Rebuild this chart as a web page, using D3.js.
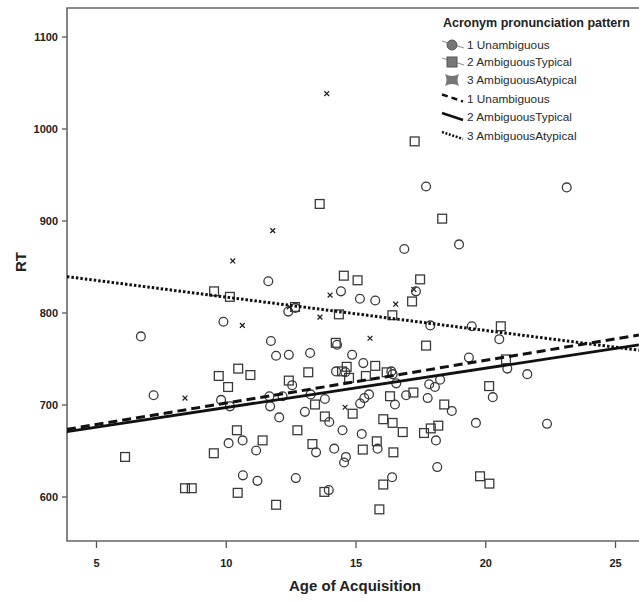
<!DOCTYPE html>
<html>
<head>
<meta charset="utf-8">
<script src="https://cdn.jsdelivr.net/npm/d3@7"></script>
<style>
  body { margin: 0; background: #fff; }
  svg { display: block; font-family: "Liberation Sans Narrow", "Liberation Sans", Arial, sans-serif; }
</style>
</head>
<body>
<svg id="chart" width="639" height="603"></svg>
<script>
// Age of Acquisition (x) vs RT (y), one array pair per group
var unambX = [6.73, 9.91, 7.22, 9.82, 10.16, 10.11, 10.65, 11.17, 10.66, 11.22, 11.64, 14.44, 15.17, 17.72, 23.14,
  16.88, 18.99, 15.76, 17.33, 12.41, 12.68, 17.88, 11.74, 14.29, 11.94, 12.43, 13.25, 14.87, 15.3, 14.25, 14.61,
  12.56, 16.38, 16.43, 16.57, 17.84, 18.06, 18.26, 11.68, 12.19, 13.27, 13.82, 16.95, 17.78, 11.71, 15.52, 15.34,
  15.18, 16.52, 12.06, 13.05, 13.99, 14.5, 15.24, 18.1, 13.48, 14.18, 15.85, 14.63, 14.56, 12.7, 13.97, 16.41,
  19.48, 20.54, 19.37, 20.85, 21.62, 20.29, 18.71, 19.64, 22.38, 18.15];
var unambRT = [774, 790, 710, 705, 698, 658, 661, 650, 623, 617, 834, 823, 815, 937, 936,
  869, 874, 813, 823, 801, 805, 786, 769, 765, 753, 754, 756, 754, 745, 736, 735,
  721, 736, 733, 723, 722, 719, 727, 709, 709, 711, 706, 710, 707, 698, 711, 707,
  701, 700, 686, 692, 681, 672, 668, 661, 648, 652, 652, 643, 637, 620, 607, 621,
  785, 771, 751, 739, 733, 708, 693, 680, 679, 632];

var typX = [9.73, 10.48, 10.95, 10.09, 10.43, 6.12, 9.54, 8.43, 8.69, 10.46, 13.62, 14.55, 15.08, 9.55, 10.16,
  12.67, 17.28, 18.34, 17.49, 17.18, 16.42, 14.36, 14.24, 17.72, 15.76, 13.18, 14.48, 14.66, 14.75, 15.4, 16.2,
  12.43, 16.33, 17.23, 13.44, 14.89, 13.82, 16.07, 16.43, 16.82, 17.64, 17.9, 18.19, 12.76, 11.42, 13.34, 15.28,
  15.82, 16.46, 13.8, 16.07, 11.94, 15.92, 20.6, 20.8, 20.15, 18.42, 19.8, 20.16];
var typRT = [731, 739, 732, 719, 672, 643, 647, 609, 609, 604, 918, 840, 835, 823, 817,
  806, 986, 902, 836, 812, 797, 798, 767, 764, 742, 735, 736, 741, 729, 731, 735,
  726, 709, 713, 700, 690, 687, 684, 680, 670, 669, 674, 677, 672, 661, 657, 651,
  660, 648, 605, 613, 591, 586, 785, 749, 720, 700, 622, 614];

var atypX = [10.64, 8.43, 13.89, 11.81, 10.27, 14.02, 16.55, 17.25, 12.45, 13.63, 15.56, 14.6];
var atypRT = [786, 707, 1038, 889, 856, 819, 809, 825, 806, 795, 772, 697];

// fit lines, RT at the two ends of the x range
var fitEnds = [3.88, 25.92];
var fitUnamb = [673, 775.5];
var fitTyp = [670.5, 764.7];
var fitAtyp = [839, 759];

var yTicks = [600, 700, 800, 900, 1000, 1100];
var xTicks = [5, 10, 15, 20, 25];

var legendTitle = "Acronym pronunciation pattern";
var legendLabels = ["Unambiguous", "AmbiguousTypical", "AmbiguousAtypical"];

var svg = d3.select("#chart");
var pLeft = 67, pTop = 8, pBottom = 541, pRight = 645;

var x = d3.scaleLinear().domain([5, 25]).range([96, 615]);
var y = d3.scaleLinear().domain([600, 1100]).range([496.5, 36.5]);

svg.append("defs").append("clipPath").attr("id", "plotClip")
  .append("rect").attr("x", pLeft).attr("y", pTop).attr("width", pRight - pLeft).attr("height", pBottom - pTop);

// axes
var yAxis = svg.append("g").attr("transform", "translate(" + pLeft + ",0)")
  .call(d3.axisLeft(y).tickValues(yTicks).tickFormat(d3.format("d")).tickSize(5).tickPadding(4));
var xAxis = svg.append("g").attr("transform", "translate(0," + pBottom + ")")
  .call(d3.axisBottom(x).tickValues(xTicks).tickFormat(d3.format("d")).tickSize(7).tickPadding(11));
[yAxis, xAxis].forEach(function (g) {
  g.select(".domain").remove();
  g.selectAll("line").attr("stroke", "#555").attr("stroke-width", 1.3);
  g.selectAll("text").attr("fill", "#222").style("font-size", "11px").style("font-weight", "bold");
});

// frame
svg.append("path")
  .attr("d", "M" + pRight + "," + pTop + "H" + pLeft + "V" + pBottom + "H" + pRight)
  .attr("fill", "none").attr("stroke", "#666").attr("stroke-width", 1.6);

svg.append("text").attr("x", 355).attr("y", 591).attr("text-anchor", "middle")
  .style("font-size", "15px").style("font-weight", "bold").attr("fill", "#222")
  .text("Age of Acquisition");
svg.append("text").attr("transform", "translate(26,262) rotate(-90)").attr("text-anchor", "middle")
  .style("font-size", "15px").style("font-weight", "bold").attr("fill", "#222")
  .text("RT");

var plot = svg.append("g").attr("clip-path", "url(#plotClip)");

var ink = "#3a3a3a";

plot.selectAll(".circ").data(d3.range(unambX.length)).enter().append("circle")
  .attr("cx", function (i) { return x(unambX[i]); })
  .attr("cy", function (i) { return y(unambRT[i]); })
  .attr("r", 4.4)
  .attr("fill", "none").attr("stroke", ink).attr("stroke-width", 1.3);

plot.selectAll(".sq").data(d3.range(typX.length)).enter().append("rect")
  .attr("x", function (i) { return x(typX[i]) - 4.4; })
  .attr("y", function (i) { return y(typRT[i]) - 4.4; })
  .attr("width", 8.8).attr("height", 8.8)
  .attr("fill", "none").attr("stroke", ink).attr("stroke-width", 1.3);

plot.selectAll(".cross").data(d3.range(atypX.length)).enter().append("path")
  .attr("d", function (i) {
    var cx = x(atypX[i]), cy = y(atypRT[i]), s = 2.4;
    return "M" + (cx - s) + "," + (cy - s) + "L" + (cx + s) + "," + (cy + s) +
      "M" + (cx - s) + "," + (cy + s) + "L" + (cx + s) + "," + (cy - s);
  })
  .attr("stroke", "#222").attr("stroke-width", 1.3);

// fit lines
function fitLine(vals, dash, width) {
  plot.append("line")
    .attr("x1", x(fitEnds[0])).attr("y1", y(vals[0]))
    .attr("x2", x(fitEnds[1])).attr("y2", y(vals[1]))
    .attr("stroke", "#111").attr("stroke-width", width)
    .attr("stroke-dasharray", dash);
}
fitLine(fitAtyp, "2.5,2", 3);
fitLine(fitUnamb, "9,5", 3);
fitLine(fitTyp, null, 2.8);

// legend
var lg = svg.append("g");
lg.append("text").attr("x", 443).attr("y", 27)
  .style("font-size", "12.5px").style("font-weight", "bold").attr("fill", "#222")
  .text(legendTitle);
var rowY = [45, 62, 80, 98.5, 117, 136];
var symX = 452;
for (var k = 0; k < 6; k++) {
  var g = k % 3;
  lg.append("text").attr("x", 467).attr("y", rowY[k] + 4)
    .style("font-size", "11.8px").attr("fill", "#2a2a2a")
    .text((g + 1) + " " + legendLabels[g]);
}
// point symbols
lg.append("line").attr("x1", 442).attr("y1", rowY[0] - 4).attr("x2", 464).attr("y2", rowY[0] + 3)
  .attr("stroke", "#888").attr("stroke-width", 1);
lg.append("circle").attr("cx", symX).attr("cy", rowY[0]).attr("r", 5)
  .attr("fill", "#777").attr("stroke", "#555");
lg.append("line").attr("x1", 442).attr("y1", rowY[1] - 4).attr("x2", 464).attr("y2", rowY[1] + 3)
  .attr("stroke", "#888").attr("stroke-width", 1);
lg.append("rect").attr("x", symX - 5).attr("y", rowY[1] - 5).attr("width", 10).attr("height", 10)
  .attr("fill", "#777").attr("stroke", "#555");
lg.append("path")
  .attr("d", "M" + (symX - 7) + "," + (rowY[2] - 6) + "Q" + symX + "," + (rowY[2] - 2) + " " + (symX + 7) + "," + (rowY[2] - 6) +
    "Q" + (symX + 4) + "," + rowY[2] + " " + (symX + 7) + "," + (rowY[2] + 6) +
    "Q" + symX + "," + (rowY[2] + 2) + " " + (symX - 7) + "," + (rowY[2] + 6) +
    "Q" + (symX - 4) + "," + rowY[2] + " " + (symX - 7) + "," + (rowY[2] - 6) + "Z")
  .attr("fill", "#777");
// line symbols
var lineDash = ["6,4", null, "2,1.6"];
for (var m = 0; m < 3; m++) {
  lg.append("line").attr("x1", 442).attr("y1", rowY[3 + m] - 4).attr("x2", 463).attr("y2", rowY[3 + m] + 3)
    .attr("stroke", "#111").attr("stroke-width", 2.5).attr("stroke-dasharray", lineDash[m]);
}
</script>
</body>
</html>
